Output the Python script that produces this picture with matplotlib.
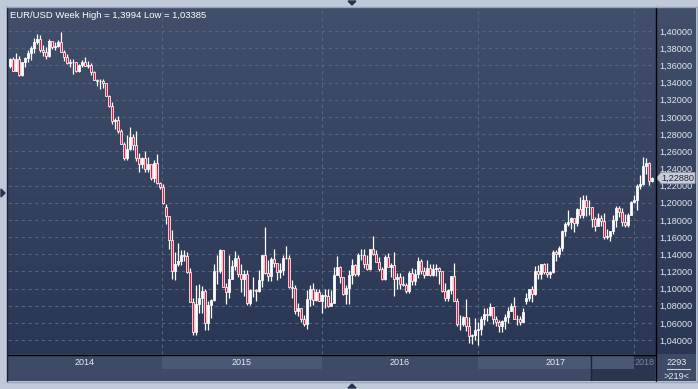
import numpy as np
import matplotlib.pyplot as plt
from matplotlib.colors import LinearSegmentedColormap
from matplotlib.patches import Rectangle, Polygon
from matplotlib.lines import Line2D

# ---- weekly EUR/USD candles, week of 6 Jan 2014 .. week of 12 Feb 2018 ----
opens = [
    1.3590, 1.3670, 1.3540, 1.3675, 1.3485, 1.3635, 1.3690, 1.3740, 1.3800, 1.3875,
    1.3910, 1.3780, 1.3750, 1.3705, 1.3885, 1.3815, 1.3830, 1.3870, 1.3755, 1.3695,
    1.3630, 1.3635, 1.3645, 1.3540, 1.3600, 1.3645, 1.3595, 1.3605, 1.3525, 1.3430,
    1.3415, 1.3415, 1.3400, 1.3240, 1.3130, 1.2950, 1.2960, 1.2830, 1.2685, 1.2515,
    1.2630, 1.2760, 1.2670, 1.2525, 1.2450, 1.2525, 1.2390, 1.2450, 1.2290, 1.2465,
    1.2225, 1.2180,
    1.1950, 1.1840, 1.1565, 1.1205, 1.1290, 1.1315, 1.1390, 1.1380, 1.1195, 1.0840,
    1.0495, 1.0825, 1.0890, 1.0970, 1.0600, 1.0805, 1.0870, 1.1200, 1.1200, 1.1450,
    1.1015, 1.0955, 1.1110, 1.1265, 1.1350, 1.1165, 1.1110, 1.1165, 1.0830, 1.0985,
    1.0985, 1.0970, 1.1105, 1.1385, 1.1185, 1.1150, 1.1340, 1.1295, 1.1195, 1.1210,
    1.1360, 1.1350, 1.1015, 1.1005, 1.0740, 1.0770, 1.0645, 1.0590, 1.0880, 1.0990,
    1.0865, 1.0965,
    1.0860, 1.0920, 1.0915, 1.0795, 1.0830, 1.1155, 1.1255, 1.1130, 1.0935, 1.1005,
    1.1155, 1.1270, 1.1165, 1.1390, 1.1395, 1.1285, 1.1225, 1.1455, 1.1405, 1.1310,
    1.1225, 1.1115, 1.1365, 1.1255, 1.1275, 1.1115, 1.1135, 1.1055, 1.1040, 1.0975,
    1.1175, 1.1085, 1.1165, 1.1325, 1.1200, 1.1155, 1.1235, 1.1155, 1.1225, 1.1240,
    1.1200, 1.0970, 1.0885, 1.0985, 1.1140, 1.0850, 1.0590, 1.0590, 1.0665, 1.0560,
    1.0450, 1.0455,
    1.0520, 1.0530, 1.0645, 1.0705, 1.0695, 1.0785, 1.0640, 1.0615, 1.0560, 1.0620,
    1.0670, 1.0740, 1.0800, 1.0650, 1.0640, 1.0615, 1.0860, 1.0895, 1.0995, 1.0935,
    1.1205, 1.1165, 1.1280, 1.1195, 1.1170, 1.1195, 1.1425, 1.1400, 1.1470, 1.1665,
    1.1750, 1.1775, 1.1820, 1.1760, 1.1925, 1.1860, 1.2035, 1.1945, 1.1950, 1.1815,
    1.1730, 1.1820, 1.1785, 1.1605, 1.1610, 1.1665, 1.1795, 1.1935, 1.1895, 1.1770,
    1.1745, 1.1860,
    1.2005, 1.2030, 1.2200, 1.2220, 1.2425, 1.2460, 1.2250,
]
highs = [
    1.3680, 1.3700, 1.3740, 1.3705, 1.3645, 1.3700, 1.3775, 1.3825, 1.3915, 1.3967,
    1.3950, 1.3835, 1.3810, 1.3905, 1.3875, 1.3870, 1.3890, 1.3994, 1.3775, 1.3735,
    1.3670, 1.3670, 1.3645, 1.3615, 1.3660, 1.3700, 1.3650, 1.3625, 1.3530, 1.3445,
    1.3445, 1.3445, 1.3400, 1.3260, 1.3175, 1.2990, 1.3010, 1.2860, 1.2705, 1.2790,
    1.2885, 1.2800, 1.2840, 1.2580, 1.2530, 1.2600, 1.2530, 1.2455, 1.2500, 1.2570,
    1.2245, 1.2220,
    1.1980, 1.1840, 1.1680, 1.1420, 1.1535, 1.1445, 1.1450, 1.1430, 1.1240, 1.0890,
    1.1045, 1.1050, 1.1030, 1.0990, 1.0850, 1.0880, 1.1290, 1.1390, 1.1465, 1.1440,
    1.1060, 1.1385, 1.1335, 1.1435, 1.1385, 1.1280, 1.1215, 1.1215, 1.1000, 1.1130,
    1.0995, 1.1215, 1.1390, 1.1715, 1.1330, 1.1370, 1.1460, 1.1300, 1.1295, 1.1390,
    1.1495, 1.1390, 1.1095, 1.1045, 1.0830, 1.0755, 1.0690, 1.0980, 1.1045, 1.1060,
    1.0990, 1.0990,
    1.0940, 1.0990, 1.0990, 1.0985, 1.1245, 1.1375, 1.1260, 1.1130, 1.1045, 1.1215,
    1.1340, 1.1290, 1.1410, 1.1465, 1.1465, 1.1395, 1.1460, 1.1615, 1.1445, 1.1365,
    1.1245, 1.1395, 1.1415, 1.1300, 1.1425, 1.1185, 1.1185, 1.1140, 1.1065, 1.1200,
    1.1235, 1.1225, 1.1365, 1.1340, 1.1250, 1.1330, 1.1285, 1.1285, 1.1280, 1.1255,
    1.1205, 1.1060, 1.0990, 1.1145, 1.1300, 1.0895, 1.0690, 1.0675, 1.0875, 1.0665,
    1.0475, 1.0655,
    1.0615, 1.0685, 1.0775, 1.0775, 1.0830, 1.0790, 1.0680, 1.0630, 1.0630, 1.0700,
    1.0785, 1.0830, 1.0905, 1.0690, 1.0680, 1.0775, 1.0950, 1.1000, 1.1025, 1.1265,
    1.1270, 1.1285, 1.1295, 1.1295, 1.1205, 1.1445, 1.1450, 1.1490, 1.1680, 1.1775,
    1.1910, 1.1830, 1.1810, 1.1940, 1.2070, 1.2090, 1.2090, 1.2035, 1.1950, 1.1835,
    1.1880, 1.1860, 1.1880, 1.1690, 1.1665, 1.1860, 1.1960, 1.1960, 1.1940, 1.1865,
    1.1880, 1.2015,
    1.2090, 1.2215, 1.2325, 1.2535, 1.2520, 1.2475, 1.2300,
]
lows = [
    1.3570, 1.3540, 1.3530, 1.3480, 1.3480, 1.3580, 1.3640, 1.3660, 1.3740, 1.3850,
    1.3750, 1.3705, 1.3670, 1.3700, 1.3790, 1.3780, 1.3815, 1.3750, 1.3650, 1.3615,
    1.3585, 1.3500, 1.3520, 1.3520, 1.3585, 1.3590, 1.3575, 1.3490, 1.3425, 1.3365,
    1.3330, 1.3340, 1.3240, 1.3110, 1.2920, 1.2860, 1.2815, 1.2680, 1.2500, 1.2500,
    1.2615, 1.2615, 1.2485, 1.2360, 1.2400, 1.2360, 1.2360, 1.2270, 1.2245, 1.2220,
    1.2165, 1.1990,
    1.1755, 1.1460, 1.1115, 1.1100, 1.1260, 1.1270, 1.1315, 1.1175, 1.0840, 1.0460,
    1.0460, 1.0710, 1.0710, 1.0520, 1.0520, 1.0660, 1.0850, 1.1055, 1.1180, 1.1015,
    1.0820, 1.0890, 1.1130, 1.1220, 1.1130, 1.0955, 1.0915, 1.0810, 1.0810, 1.0900,
    1.0850, 1.0955, 1.1015, 1.1165, 1.1090, 1.1085, 1.1250, 1.1105, 1.1125, 1.1160,
    1.1340, 1.1010, 1.0895, 1.0705, 1.0675, 1.0615, 1.0565, 1.0525, 1.0795, 1.0805,
    1.0850, 1.0850,
    1.0710, 1.0775, 1.0780, 1.0810, 1.0855, 1.1155, 1.1065, 1.0930, 1.0820, 1.0825,
    1.1055, 1.1145, 1.1145, 1.1330, 1.1235, 1.1215, 1.1220, 1.1385, 1.1310, 1.1200,
    1.1095, 1.1100, 1.1260, 1.1130, 1.0910, 1.0995, 1.1000, 1.1025, 1.0950, 1.0950,
    1.1045, 1.1045, 1.1125, 1.1170, 1.1125, 1.1155, 1.1150, 1.1150, 1.1150, 1.1050,
    1.0955, 1.0855, 1.0850, 1.0940, 1.0850, 1.0565, 1.0520, 1.0560, 1.0505, 1.0365,
    1.0355, 1.0405,
    1.0340, 1.0455, 1.0580, 1.0620, 1.0675, 1.0590, 1.0565, 1.0495, 1.0495, 1.0525,
    1.0600, 1.0735, 1.0650, 1.0570, 1.0570, 1.0605, 1.0820, 1.0850, 1.0840, 1.0925,
    1.1110, 1.1110, 1.1170, 1.1130, 1.1120, 1.1180, 1.1315, 1.1370, 1.1435, 1.1615,
    1.1730, 1.1690, 1.1660, 1.1730, 1.1825, 1.1825, 1.1840, 1.1860, 1.1715, 1.1670,
    1.1730, 1.1730, 1.1575, 1.1575, 1.1555, 1.1630, 1.1720, 1.1830, 1.1730, 1.1715,
    1.1720, 1.1855,
    1.1995, 1.1915, 1.2165, 1.2205, 1.2335, 1.2205, 1.2245,
]
closes = [
    1.3670, 1.3540, 1.3675, 1.3485, 1.3635, 1.3690, 1.3740, 1.3800, 1.3875, 1.3910,
    1.3780, 1.3750, 1.3705, 1.3885, 1.3815, 1.3830, 1.3870, 1.3755, 1.3695, 1.3630,
    1.3635, 1.3645, 1.3540, 1.3600, 1.3645, 1.3595, 1.3605, 1.3525, 1.3430, 1.3415,
    1.3415, 1.3400, 1.3240, 1.3130, 1.2950, 1.2960, 1.2830, 1.2685, 1.2515, 1.2630,
    1.2760, 1.2670, 1.2525, 1.2450, 1.2525, 1.2390, 1.2450, 1.2290, 1.2465, 1.2225,
    1.2180, 1.2000,
    1.1840, 1.1565, 1.1205, 1.1290, 1.1315, 1.1390, 1.1380, 1.1195, 1.0840, 1.0495,
    1.0825, 1.0890, 1.0970, 1.0600, 1.0805, 1.0870, 1.1200, 1.1200, 1.1450, 1.1015,
    1.0955, 1.1110, 1.1265, 1.1350, 1.1165, 1.1110, 1.1165, 1.0830, 1.0985, 1.0985,
    1.0970, 1.1105, 1.1385, 1.1185, 1.1150, 1.1340, 1.1295, 1.1195, 1.1210, 1.1360,
    1.1350, 1.1015, 1.1005, 1.0740, 1.0770, 1.0645, 1.0590, 1.0880, 1.0990, 1.0865,
    1.0965, 1.0860,
    1.0920, 1.0915, 1.0795, 1.0830, 1.1155, 1.1255, 1.1130, 1.0935, 1.1005, 1.1155,
    1.1270, 1.1165, 1.1390, 1.1395, 1.1285, 1.1225, 1.1455, 1.1405, 1.1310, 1.1225,
    1.1115, 1.1365, 1.1255, 1.1275, 1.1115, 1.1135, 1.1055, 1.1040, 1.0975, 1.1175,
    1.1085, 1.1165, 1.1325, 1.1200, 1.1155, 1.1235, 1.1155, 1.1225, 1.1240, 1.1200,
    1.0970, 1.0885, 1.0985, 1.1140, 1.0850, 1.0590, 1.0590, 1.0665, 1.0560, 1.0450,
    1.0455, 1.0520,
    1.0530, 1.0645, 1.0705, 1.0695, 1.0785, 1.0640, 1.0615, 1.0560, 1.0620, 1.0670,
    1.0740, 1.0800, 1.0650, 1.0640, 1.0615, 1.0725, 1.0895, 1.0995, 1.0935, 1.1205,
    1.1165, 1.1280, 1.1195, 1.1170, 1.1195, 1.1425, 1.1400, 1.1470, 1.1665, 1.1750,
    1.1775, 1.1820, 1.1760, 1.1925, 1.1860, 1.2035, 1.1945, 1.1950, 1.1815, 1.1730,
    1.1820, 1.1785, 1.1605, 1.1610, 1.1665, 1.1795, 1.1935, 1.1895, 1.1770, 1.1745,
    1.1860, 1.2005,
    1.2030, 1.2200, 1.2220, 1.2425, 1.2460, 1.2250, 1.2288,
]

years = ["2014", "2015", "2016", "2017", "2018"]
year_edges = [-0.67, 50.7, 104, 156, 208, 215]   # candle index where each year band starts
price_ticks = [1.04, 1.06, 1.08, 1.10, 1.12, 1.14, 1.16, 1.18, 1.20, 1.22,
               1.24, 1.26, 1.28, 1.30, 1.32, 1.34, 1.36, 1.38, 1.40]
title = "EUR/USD Week High = 1,3994 Low = 1,03385"
bar_count = "2293"
visible_count = ">219<"

# ---- layout helpers (pixel boxes, origin top-left) ----
W, H = 698, 389
FRAME = '#bfc9d8'
fig = plt.figure(figsize=(W / 100, H / 100), dpi=100, facecolor=FRAME)
plt.rcParams['font.family'] = ['Liberation Sans', 'DejaVu Sans']


def px_axes(x0, y0, x1, y1):
    a = fig.add_axes([x0 / W, 1 - y1 / H, (x1 - x0) / W, (y1 - y0) / H])
    a.set_xticks([])
    a.set_yticks([])
    for s in a.spines.values():
        s.set_visible(False)
    return a


def fx(x):
    return x / W


def fy(y):
    return 1 - y / H


grad = LinearSegmentedColormap.from_list('bg', ['#414f6b', '#2a3754'])
gimg = np.linspace(0, 1, 200).reshape(-1, 1)

ax_r = px_axes(655, 7, 696, 354)
ax_r.imshow(gimg, cmap=grad, extent=[0, 1, 0, 1], aspect='auto',
            transform=ax_r.transAxes)
ax_r.set_xlim(0, 1)
ax_r.set_ylim(0, 1)

ax = px_axes(8, 7, 655, 354)
ax.imshow(gimg, cmap=grad, extent=[0, 1, 0, 1], aspect='auto',
          transform=ax.transAxes, zorder=0)

x = np.arange(len(closes))
o = np.array(opens)
c = np.array(closes)
hi = np.array(highs)
lo = np.array(lows)
up = c >= o
red = '#e5173c'

ax.vlines(x, lo, hi, color='white', lw=0.9, zorder=3)
ax.bar(x, np.abs(c - o), bottom=np.minimum(o, c), width=0.8,
       color=np.where(up, 'white', red), edgecolor='white', linewidth=0.55,
       zorder=4)

ax.set_xlim(-0.667, 215)
ax.set_ylim(1.0237, 1.4280)
ax.set_autoscale_on(False)

# grid + right price scale
ax.set_xticks(year_edges[1:-1])
ax.set_yticks(price_ticks)
ax.set_yticklabels([f"{p:.5f}".replace('.', ',') for p in price_ticks])
ax.yaxis.tick_right()
ax.tick_params(axis='x', length=0, labelbottom=False)
ax.tick_params(axis='y', length=0, pad=3, labelsize=6.6, labelcolor='#e2e7f0')
ax.grid(color='#56637f', linestyle=(0, (3, 3)), lw=0.8)
ax.set_axisbelow(True)

fig.text(fx(10), fy(15), title, color='white', fontsize=6.8, va='center', ha='left')

# ---- bottom time scale ----
ax_b = px_axes(8, 354, 655, 381)
ax_b.set_facecolor('#3e4b67')
ax_b.set_xlim(ax.get_xlim())
ax_b.set_ylim(0, 1)
for i, yr in enumerate(years):
    x0, x1 = year_edges[i], year_edges[i + 1]
    if i in (1, 3):
        ax_b.add_patch(Rectangle((x0, 0.444), x1 - x0, 0.482, color='#4b5875', lw=0))
    ax_b.text((x0 + x1) / 2, 0.70, yr, ha='center', va='center', fontsize=6.5,
              color='#7b859c' if yr == "2018" else '#e6ebf3', zorder=5)
# scroll-window shade on the right
ax_b.add_patch(Rectangle((194, 0), 22, 0.444, color='#2b3550', lw=0, zorder=3))
ax_b.add_patch(Rectangle((208, 0.444), 8, 0.482, color='#2b3550', lw=0, zorder=3))
ax_b.plot([193.7, 193.7], [0.04, 0.93], color='#1c2438', lw=1, zorder=4)

ax_c = px_axes(655, 354, 696, 381)
ax_c.set_facecolor('#3e4b67')
ax_c.set_xlim(0, 1)
ax_c.set_ylim(0, 1)
ax_c.text(0.52, 0.70, bar_count, ha='center', va='center', fontsize=6.6, color='#e6ebf3')
ax_c.text(0.52, 0.16, visible_count, ha='center', va='center', fontsize=6.6, color='#e6ebf3')
ax_c.plot([0.29, 0.85], [0.46, 0.46], color='#c9d0dc', lw=0.8)

# ---- separators and frame decorations ----
fig.add_artist(Line2D([fx(655.5), fx(655.5)], [fy(7), fy(381)], color='black', lw=1))
fig.add_artist(Line2D([fx(8), fx(655.5)], [fy(354.5), fy(354.5)], color='black', lw=1))
fig.add_artist(Line2D([fx(7.5), fx(7.5)], [fy(7), fy(381)], color='#1b2236', lw=1))
fig.add_artist(Line2D([fx(7), fx(697)], [fy(6.5), fy(6.5)], color='#98a4b8', lw=1))
fig.add_artist(Line2D([fx(7), fx(697)], [fy(381.5), fy(381.5)], color='#98a4b8', lw=1))
fig.add_artist(Line2D([fx(696.5), fx(696.5)], [fy(7), fy(381)], color='#98a4b8', lw=1))

tri = '#2a3450'
fig.add_artist(Polygon([(fx(348), fy(1)), (fx(356), fy(1)), (fx(352), fy(5))],
                       closed=True, color=tri))
fig.add_artist(Polygon([(fx(348), fy(388)), (fx(356), fy(388)), (fx(352), fy(384))],
                       closed=True, color=tri))
fig.add_artist(Polygon([(fx(1), fy(189)), (fx(1), fy(197)), (fx(5), fy(193))],
                       closed=True, color=tri))

# last price marker on the scale
last = closes[-1]
y_disp = ax.transData.transform((0, last))[1]
yp = H - y_disp
fig.add_artist(Polygon([(fx(656.5), fy(yp)), (fx(661), fy(yp - 5.5)), (fx(695), fy(yp - 5.5)),
                        (fx(695), fy(yp + 5.5)), (fx(661), fy(yp + 5.5))],
                       closed=True, facecolor='#c7ccd5', edgecolor='#9aa2b0', lw=0.5))
fig.text(fx(678), fy(yp), f"{last:.5f}".replace('.', ','), ha='center', va='center',
         fontsize=6.6, color='#1d2640')

fig.savefig('out.png', dpi=100, facecolor=FRAME)
